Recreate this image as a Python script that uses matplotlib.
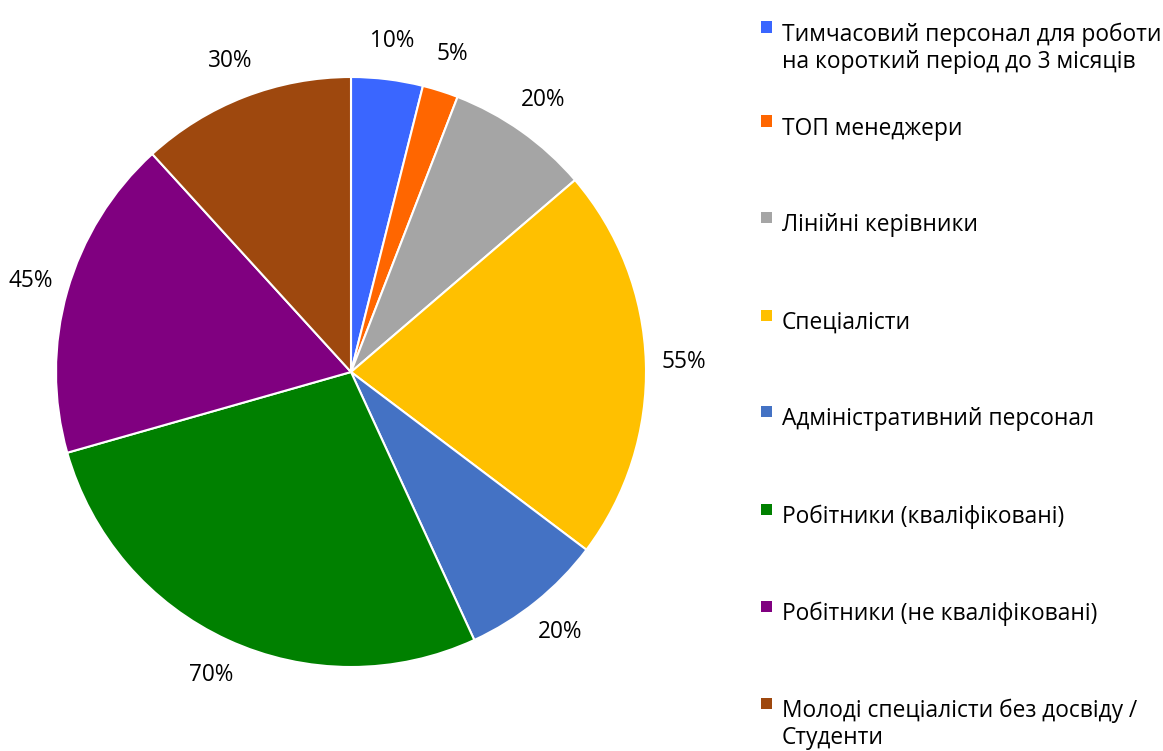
import matplotlib
matplotlib.use("Agg")
import matplotlib.pyplot as plt
from matplotlib.patches import Rectangle

categories = [
    "Тимчасовий персонал для роботи\nна короткий період до 3 місяців",
    "ТОП менеджери",
    "Лінійні керівники",
    "Спеціалісти",
    "Адміністративний персонал",
    "Робітники (кваліфіковані)",
    "Робітники (не кваліфіковані)",
    "Молоді спеціалісти без досвіду /\nСтуденти",
]
values = [10, 5, 20, 55, 20, 70, 45, 30]
value_labels = ["10%", "5%", "20%", "55%", "20%", "70%", "45%", "30%"]
colors = ["#3A66FF", "#FF6600", "#A5A5A5", "#FFC000", "#4472C4", "#008000", "#800080", "#9E480E"]

plt.rcParams['font.family'] = ['Open Sans', 'DejaVu Sans']

W, H = 1163, 751
fig = plt.figure(figsize=(W / 100, H / 100), dpi=100)

cx, cy, r = 351, 372, 295
ax = fig.add_axes([(cx - r) / W, (H - cy - r) / H, 2 * r / W, 2 * r / H])
wedges, texts = ax.pie(values, colors=colors, startangle=90, counterclock=False,
                       labels=value_labels, labeldistance=1.13,
                       wedgeprops=dict(edgecolor="white", linewidth=1.5),
                       textprops=dict(fontsize=16.3, color="#000000"))
for t in texts:
    t.set_ha("center")
    t.set_va("center")
ax.set_xlim(-1, 1)
ax.set_ylim(-1, 1)
ax.set_aspect("equal")
ax.axis("off")

baselines = [41, 135, 231, 329, 425, 523, 620, 717]
line_step = 27
msize = 11
for lab, col, yb in zip(categories, colors, baselines):
    mc = yb - 14
    fig.patches.append(Rectangle((761 / W, 1 - (mc + msize / 2) / H), msize / W, msize / H,
                                 transform=fig.transFigure, facecolor=col, edgecolor="none"))
    for i, line in enumerate(lab.split("\n")):
        fig.text(782 / W, 1 - (yb + i * line_step) / H, line, ha="left", va="baseline",
                 fontsize=16.4, color="#000000")

fig.savefig("out.png", dpi=100)
